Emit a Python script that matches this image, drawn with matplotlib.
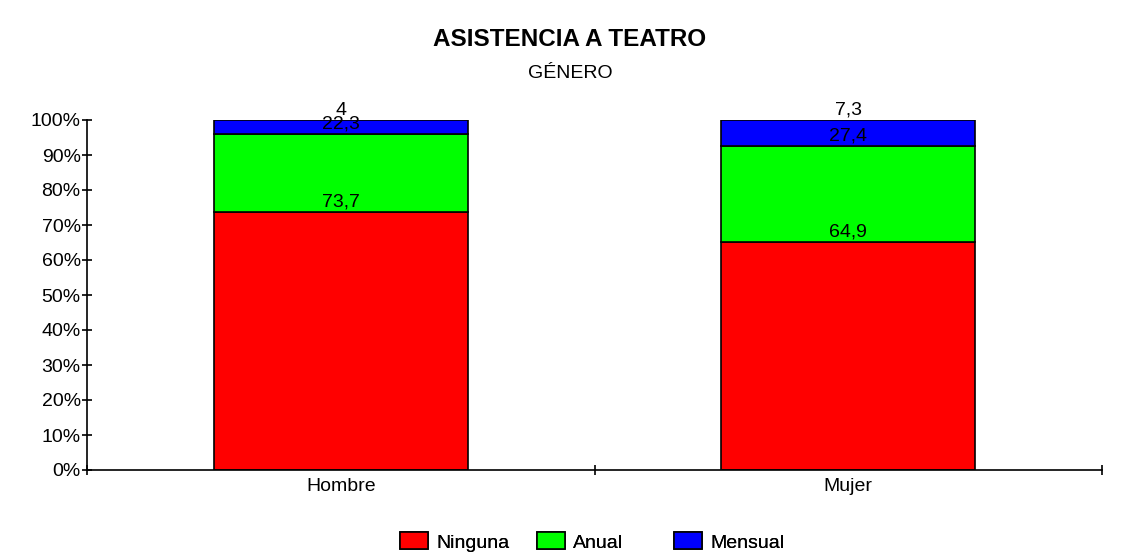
import matplotlib
matplotlib.use("Agg")
import matplotlib.pyplot as plt
import numpy as np

categories = ["Hombre", "Mujer"]
series_names = ["Ninguna", "Anual", "Mensual"]
ninguna = [73.7, 64.9]
anual = [22.3, 27.4]
mensual = [4.0, 7.3]
colors = ["#FF0000", "#00FF00", "#0000FF"]
y_ticks = list(range(0, 101, 10))

plt.rcParams['font.family'] = ['Liberation Sans', 'DejaVu Sans']
FS = 14

fig = plt.figure(figsize=(11.29, 5.54), dpi=100)
ax = fig.add_axes([87/1129, 1-470/554, (1102-87)/1129, 350/554])

data = np.array([ninguna, anual, mensual])
totals = data.sum(axis=0)
pct = data / totals * 100
x = np.arange(len(categories)) + 0.5
bottom = np.zeros(len(categories))
handles = []
for i, name in enumerate(series_names):
    h = ax.bar(x, pct[i], width=0.5, bottom=bottom, color=colors[i],
               edgecolor='black', linewidth=1.2, label=name)
    handles.append(h)
    for j in range(len(categories)):
        lbl = f"{data[i][j]:g}".replace('.', ',')
        ax.annotate(lbl, (x[j], bottom[j] + pct[i][j]), xytext=(0, 1),
                    textcoords='offset points', ha='center', va='bottom',
                    fontsize=FS, color='black')
    bottom = bottom + pct[i]

ax.set_xlim(0, 2)
ax.set_ylim(0, 100)
for s in ['top', 'right']:
    ax.spines[s].set_visible(False)
ax.spines['left'].set_linewidth(1.2)
ax.spines['bottom'].set_linewidth(1.2)
ax.set_yticks(y_ticks)
ax.set_yticklabels([f"{t}%" for t in y_ticks], fontsize=FS)
ax.tick_params(axis='y', direction='inout', length=7, width=1.2, pad=1)
ax.set_xticks([0, 1, 2])
ax.set_xticklabels(['', '', ''])
ax.tick_params(axis='x', which='major', direction='inout', length=7, width=1.2)
ax.set_xticks(x, minor=True)
ax.set_xticklabels(categories, minor=True, fontsize=FS)
ax.tick_params(axis='x', which='minor', length=0, pad=6)

fig.text(570/1129, 1-40/554, "ASISTENCIA A TEATRO", ha='center', va='center',
         fontsize=17.5, fontweight='bold')
fig.text(570/1129, 1-73/554, "GÉNERO", ha='center', va='center', fontsize=FS)

legend_x = [400, 537, 674]
for h, name, lx in zip(handles, series_names, legend_x):
    leg = fig.legend(handles=[h], labels=[name], loc='center left',
                     bbox_to_anchor=(lx/1129, 1-542/554), frameon=False,
                     fontsize=FS, handlelength=1.45, handleheight=0.95,
                     handletextpad=0.4, borderpad=0, borderaxespad=0)
    fig.add_artist(leg)

fig.savefig("out.png", dpi=100, facecolor='white')
